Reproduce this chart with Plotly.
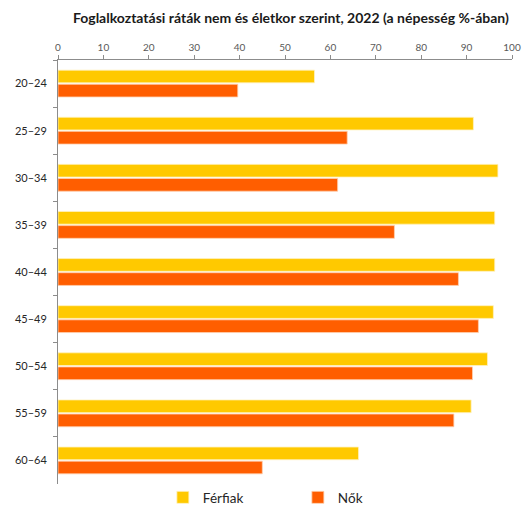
import plotly.graph_objects as go

categories = ["20–24", "25–29", "30–34", "35–39", "40–44", "45–49", "50–54", "55–59", "60–64"]
ferfiak = [56.5, 91.5, 96.9, 96.2, 96.2, 95.9, 94.6, 91.0, 66.2]
nok = [39.6, 63.7, 61.6, 74.1, 88.2, 92.6, 91.3, 87.2, 45.0]
x_ticks = [0, 10, 20, 30, 40, 50, 60, 70, 80, 90, 100]

font_family = "Lato, 'Open Sans', sans-serif"

fig = go.Figure()
fig.add_trace(go.Bar(y=categories, x=ferfiak, orientation="h", name="Férfiak",
                     marker=dict(color="#FFC900", line=dict(color="#FFF2C0", width=0.8))))
fig.add_trace(go.Bar(y=categories, x=nok, orientation="h", name="Nők",
                     marker=dict(color="#FF5E00", line=dict(color="#FFD0B0", width=0.8))))

fig.update_layout(
    width=523, height=506,
    margin=dict(l=58, r=11, t=60, b=22, autoexpand=False),
    paper_bgcolor="white", plot_bgcolor="white",
    barmode="group", bargap=0.4, bargroupgap=0.1,
    title=dict(text="<b>Foglalkoztatási ráták nem és életkor szerint, 2022 (a népesség %-ában)</b>",
               x=0.513, xanchor="center", xref="paper", y=1 - 18 / 506, yref="container", yanchor="middle",
               font=dict(family=font_family, size=14, color="#1a1a1a")),
    font=dict(family=font_family, size=10, color="#404040"),
    xaxis=dict(side="top", range=[0, 100], tickvals=x_ticks, showgrid=False,
               showline=True, linecolor="#8c8c8c", linewidth=1, automargin=False,
               ticks="outside", ticklen=4, tickcolor="#8c8c8c",
               tickfont=dict(size=10, color="#595959"), zeroline=False, fixedrange=True),
    yaxis=dict(categoryorder="array", categoryarray=categories, autorange="reversed",
               showline=True, linecolor="#8c8c8c", linewidth=1, showgrid=False, automargin=False,
               ticks="outside", ticklen=4, tickcolor="#8c8c8c", tickson="boundaries",
               ticklabelstandoff=8,
               tickfont=dict(size=11, color="#262626"), fixedrange=True),
    legend=dict(orientation="h", x=0.231, xanchor="left", y=0.0045, yanchor="top",
                font=dict(size=13.5, color="#262626"), entrywidth=90, entrywidthmode="pixels",
                itemwidth=30, bgcolor="rgba(0,0,0,0)"),
)

fig.write_html("out.html", config={"displayModeBar": False},
               post_script="document.body.style.margin='0';document.body.style.padding='0';")
